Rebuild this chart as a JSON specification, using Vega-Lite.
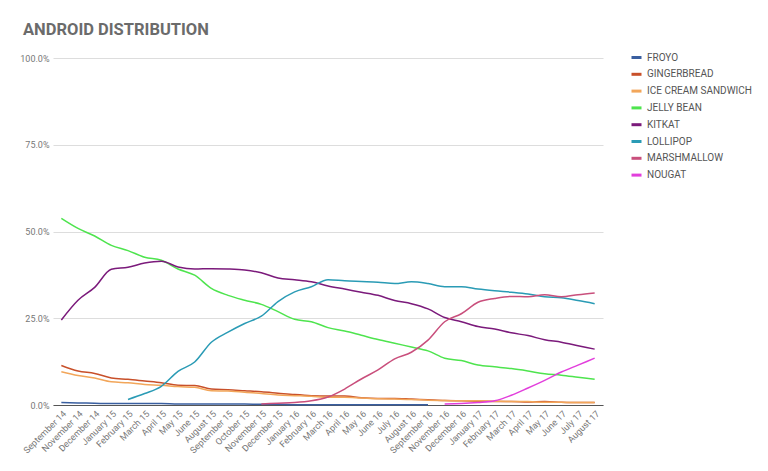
{
  "$schema": "https://vega.github.io/schema/vega-lite/v6.json",
  "width": 550,
  "height": 347,
  "autosize": {"type": "none"},
  "padding": {"left": 53, "top": 58, "right": 165, "bottom": 66},
  "background": "white",
  "title": {
    "text": "ANDROID DISTRIBUTION",
    "anchor": "start",
    "frame": "group",
    "dx": -30,
    "dy": 23,
    "offset": 23,
    "baseline": "alphabetic",
    "font": "Roboto",
    "fontSize": 16.5,
    "fontWeight": "bold",
    "color": "#6b6b6b"
  },
  "data": {
    "values": [
      {"month": "September 14", "version": "FROYO", "share": 0.7},
      {"month": "September 14", "version": "GINGERBREAD", "share": 11.4},
      {"month": "September 14", "version": "ICE CREAM SANDWICH", "share": 9.6},
      {"month": "September 14", "version": "JELLY BEAN", "share": 53.8},
      {"month": "September 14", "version": "KITKAT", "share": 24.5},
      {"month": "November 14", "version": "FROYO", "share": 0.6},
      {"month": "November 14", "version": "GINGERBREAD", "share": 9.8},
      {"month": "November 14", "version": "ICE CREAM SANDWICH", "share": 8.5},
      {"month": "November 14", "version": "JELLY BEAN", "share": 50.9},
      {"month": "November 14", "version": "KITKAT", "share": 30.2},
      {"month": "December 14", "version": "FROYO", "share": 0.5},
      {"month": "December 14", "version": "GINGERBREAD", "share": 9.1},
      {"month": "December 14", "version": "ICE CREAM SANDWICH", "share": 7.8},
      {"month": "December 14", "version": "JELLY BEAN", "share": 48.7},
      {"month": "December 14", "version": "KITKAT", "share": 33.9},
      {"month": "January 15", "version": "FROYO", "share": 0.4},
      {"month": "January 15", "version": "GINGERBREAD", "share": 7.8},
      {"month": "January 15", "version": "ICE CREAM SANDWICH", "share": 6.7},
      {"month": "January 15", "version": "JELLY BEAN", "share": 46.0},
      {"month": "January 15", "version": "KITKAT", "share": 39.1},
      {"month": "February 15", "version": "FROYO", "share": 0.4},
      {"month": "February 15", "version": "GINGERBREAD", "share": 7.4},
      {"month": "February 15", "version": "ICE CREAM SANDWICH", "share": 6.4},
      {"month": "February 15", "version": "JELLY BEAN", "share": 44.5},
      {"month": "February 15", "version": "KITKAT", "share": 39.7},
      {"month": "February 15", "version": "LOLLIPOP", "share": 1.6},
      {"month": "March 15", "version": "FROYO", "share": 0.4},
      {"month": "March 15", "version": "GINGERBREAD", "share": 6.9},
      {"month": "March 15", "version": "ICE CREAM SANDWICH", "share": 5.9},
      {"month": "March 15", "version": "JELLY BEAN", "share": 42.6},
      {"month": "March 15", "version": "KITKAT", "share": 40.9},
      {"month": "March 15", "version": "LOLLIPOP", "share": 3.3},
      {"month": "April 15", "version": "FROYO", "share": 0.4},
      {"month": "April 15", "version": "GINGERBREAD", "share": 6.4},
      {"month": "April 15", "version": "ICE CREAM SANDWICH", "share": 5.7},
      {"month": "April 15", "version": "JELLY BEAN", "share": 41.7},
      {"month": "April 15", "version": "KITKAT", "share": 41.4},
      {"month": "April 15", "version": "LOLLIPOP", "share": 5.4},
      {"month": "May 15", "version": "FROYO", "share": 0.3},
      {"month": "May 15", "version": "GINGERBREAD", "share": 5.7},
      {"month": "May 15", "version": "ICE CREAM SANDWICH", "share": 5.3},
      {"month": "May 15", "version": "JELLY BEAN", "share": 39.2},
      {"month": "May 15", "version": "KITKAT", "share": 39.8},
      {"month": "May 15", "version": "LOLLIPOP", "share": 9.7},
      {"month": "June 15", "version": "FROYO", "share": 0.3},
      {"month": "June 15", "version": "GINGERBREAD", "share": 5.6},
      {"month": "June 15", "version": "ICE CREAM SANDWICH", "share": 5.1},
      {"month": "June 15", "version": "JELLY BEAN", "share": 37.4},
      {"month": "June 15", "version": "KITKAT", "share": 39.2},
      {"month": "June 15", "version": "LOLLIPOP", "share": 12.4},
      {"month": "August 15", "version": "FROYO", "share": 0.3},
      {"month": "August 15", "version": "GINGERBREAD", "share": 4.6},
      {"month": "August 15", "version": "ICE CREAM SANDWICH", "share": 4.1},
      {"month": "August 15", "version": "JELLY BEAN", "share": 33.6},
      {"month": "August 15", "version": "KITKAT", "share": 39.3},
      {"month": "August 15", "version": "LOLLIPOP", "share": 18.1},
      {"month": "September 15", "version": "FROYO", "share": 0.3},
      {"month": "September 15", "version": "GINGERBREAD", "share": 4.4},
      {"month": "September 15", "version": "ICE CREAM SANDWICH", "share": 4.0},
      {"month": "September 15", "version": "JELLY BEAN", "share": 31.6},
      {"month": "September 15", "version": "KITKAT", "share": 39.2},
      {"month": "September 15", "version": "LOLLIPOP", "share": 21.0},
      {"month": "October 15", "version": "FROYO", "share": 0.3},
      {"month": "October 15", "version": "GINGERBREAD", "share": 4.1},
      {"month": "October 15", "version": "ICE CREAM SANDWICH", "share": 3.7},
      {"month": "October 15", "version": "JELLY BEAN", "share": 30.2},
      {"month": "October 15", "version": "KITKAT", "share": 38.9},
      {"month": "October 15", "version": "LOLLIPOP", "share": 23.5},
      {"month": "November 15", "version": "FROYO", "share": 0.2},
      {"month": "November 15", "version": "GINGERBREAD", "share": 3.8},
      {"month": "November 15", "version": "ICE CREAM SANDWICH", "share": 3.3},
      {"month": "November 15", "version": "JELLY BEAN", "share": 29.0},
      {"month": "November 15", "version": "KITKAT", "share": 38.1},
      {"month": "November 15", "version": "LOLLIPOP", "share": 25.6},
      {"month": "November 15", "version": "MARSHMALLOW", "share": 0.3},
      {"month": "December 15", "version": "FROYO", "share": 0.2},
      {"month": "December 15", "version": "GINGERBREAD", "share": 3.4},
      {"month": "December 15", "version": "ICE CREAM SANDWICH", "share": 2.9},
      {"month": "December 15", "version": "JELLY BEAN", "share": 26.9},
      {"month": "December 15", "version": "KITKAT", "share": 36.6},
      {"month": "December 15", "version": "LOLLIPOP", "share": 29.8},
      {"month": "December 15", "version": "MARSHMALLOW", "share": 0.5},
      {"month": "January 16", "version": "FROYO", "share": 0.1},
      {"month": "January 16", "version": "GINGERBREAD", "share": 3.0},
      {"month": "January 16", "version": "ICE CREAM SANDWICH", "share": 2.7},
      {"month": "January 16", "version": "JELLY BEAN", "share": 24.7},
      {"month": "January 16", "version": "KITKAT", "share": 36.1},
      {"month": "January 16", "version": "LOLLIPOP", "share": 32.6},
      {"month": "January 16", "version": "MARSHMALLOW", "share": 0.7},
      {"month": "February 16", "version": "FROYO", "share": 0.1},
      {"month": "February 16", "version": "GINGERBREAD", "share": 2.7},
      {"month": "February 16", "version": "ICE CREAM SANDWICH", "share": 2.5},
      {"month": "February 16", "version": "JELLY BEAN", "share": 24.0},
      {"month": "February 16", "version": "KITKAT", "share": 35.5},
      {"month": "February 16", "version": "LOLLIPOP", "share": 34.1},
      {"month": "February 16", "version": "MARSHMALLOW", "share": 1.2},
      {"month": "March 16", "version": "FROYO", "share": 0.1},
      {"month": "March 16", "version": "GINGERBREAD", "share": 2.6},
      {"month": "March 16", "version": "ICE CREAM SANDWICH", "share": 2.2},
      {"month": "March 16", "version": "JELLY BEAN", "share": 22.3},
      {"month": "March 16", "version": "KITKAT", "share": 34.3},
      {"month": "March 16", "version": "LOLLIPOP", "share": 36.1},
      {"month": "March 16", "version": "MARSHMALLOW", "share": 2.3},
      {"month": "April 16", "version": "FROYO", "share": 0.1},
      {"month": "April 16", "version": "GINGERBREAD", "share": 2.6},
      {"month": "April 16", "version": "ICE CREAM SANDWICH", "share": 2.2},
      {"month": "April 16", "version": "JELLY BEAN", "share": 21.3},
      {"month": "April 16", "version": "KITKAT", "share": 33.4},
      {"month": "April 16", "version": "LOLLIPOP", "share": 35.8},
      {"month": "April 16", "version": "MARSHMALLOW", "share": 4.6},
      {"month": "May 16", "version": "FROYO", "share": 0.1},
      {"month": "May 16", "version": "GINGERBREAD", "share": 2.1},
      {"month": "May 16", "version": "ICE CREAM SANDWICH", "share": 2.0},
      {"month": "May 16", "version": "JELLY BEAN", "share": 20.1},
      {"month": "May 16", "version": "KITKAT", "share": 32.5},
      {"month": "May 16", "version": "LOLLIPOP", "share": 35.6},
      {"month": "May 16", "version": "MARSHMALLOW", "share": 7.5},
      {"month": "June 16", "version": "FROYO", "share": 0.1},
      {"month": "June 16", "version": "GINGERBREAD", "share": 1.9},
      {"month": "June 16", "version": "ICE CREAM SANDWICH", "share": 1.8},
      {"month": "June 16", "version": "JELLY BEAN", "share": 18.9},
      {"month": "June 16", "version": "KITKAT", "share": 31.6},
      {"month": "June 16", "version": "LOLLIPOP", "share": 35.4},
      {"month": "June 16", "version": "MARSHMALLOW", "share": 10.1},
      {"month": "July 16", "version": "FROYO", "share": 0.1},
      {"month": "July 16", "version": "GINGERBREAD", "share": 1.9},
      {"month": "July 16", "version": "ICE CREAM SANDWICH", "share": 1.7},
      {"month": "July 16", "version": "JELLY BEAN", "share": 17.8},
      {"month": "July 16", "version": "KITKAT", "share": 30.1},
      {"month": "July 16", "version": "LOLLIPOP", "share": 35.0},
      {"month": "July 16", "version": "MARSHMALLOW", "share": 13.3},
      {"month": "August 16", "version": "FROYO", "share": 0.1},
      {"month": "August 16", "version": "GINGERBREAD", "share": 1.7},
      {"month": "August 16", "version": "ICE CREAM SANDWICH", "share": 1.6},
      {"month": "August 16", "version": "JELLY BEAN", "share": 16.7},
      {"month": "August 16", "version": "KITKAT", "share": 29.2},
      {"month": "August 16", "version": "LOLLIPOP", "share": 35.5},
      {"month": "August 16", "version": "MARSHMALLOW", "share": 15.2},
      {"month": "September 16", "version": "FROYO", "share": 0.1},
      {"month": "September 16", "version": "GINGERBREAD", "share": 1.5},
      {"month": "September 16", "version": "ICE CREAM SANDWICH", "share": 1.4},
      {"month": "September 16", "version": "JELLY BEAN", "share": 15.6},
      {"month": "September 16", "version": "KITKAT", "share": 27.7},
      {"month": "September 16", "version": "LOLLIPOP", "share": 35.0},
      {"month": "September 16", "version": "MARSHMALLOW", "share": 18.7},
      {"month": "November 16", "version": "GINGERBREAD", "share": 1.3},
      {"month": "November 16", "version": "ICE CREAM SANDWICH", "share": 1.3},
      {"month": "November 16", "version": "JELLY BEAN", "share": 13.5},
      {"month": "November 16", "version": "KITKAT", "share": 25.2},
      {"month": "November 16", "version": "LOLLIPOP", "share": 34.1},
      {"month": "November 16", "version": "MARSHMALLOW", "share": 24.0},
      {"month": "November 16", "version": "NOUGAT", "share": 0.3},
      {"month": "December 16", "version": "GINGERBREAD", "share": 1.2},
      {"month": "December 16", "version": "ICE CREAM SANDWICH", "share": 1.2},
      {"month": "December 16", "version": "JELLY BEAN", "share": 12.8},
      {"month": "December 16", "version": "KITKAT", "share": 24.0},
      {"month": "December 16", "version": "LOLLIPOP", "share": 34.1},
      {"month": "December 16", "version": "MARSHMALLOW", "share": 26.3},
      {"month": "December 16", "version": "NOUGAT", "share": 0.4},
      {"month": "January 17", "version": "GINGERBREAD", "share": 1.1},
      {"month": "January 17", "version": "ICE CREAM SANDWICH", "share": 1.2},
      {"month": "January 17", "version": "JELLY BEAN", "share": 11.5},
      {"month": "January 17", "version": "KITKAT", "share": 22.6},
      {"month": "January 17", "version": "LOLLIPOP", "share": 33.4},
      {"month": "January 17", "version": "MARSHMALLOW", "share": 29.6},
      {"month": "January 17", "version": "NOUGAT", "share": 0.7},
      {"month": "February 17", "version": "GINGERBREAD", "share": 1.0},
      {"month": "February 17", "version": "ICE CREAM SANDWICH", "share": 1.1},
      {"month": "February 17", "version": "JELLY BEAN", "share": 11.0},
      {"month": "February 17", "version": "KITKAT", "share": 21.9},
      {"month": "February 17", "version": "LOLLIPOP", "share": 32.9},
      {"month": "February 17", "version": "MARSHMALLOW", "share": 30.7},
      {"month": "February 17", "version": "NOUGAT", "share": 1.2},
      {"month": "March 17", "version": "GINGERBREAD", "share": 1.0},
      {"month": "March 17", "version": "ICE CREAM SANDWICH", "share": 1.0},
      {"month": "March 17", "version": "JELLY BEAN", "share": 10.5},
      {"month": "March 17", "version": "KITKAT", "share": 20.8},
      {"month": "March 17", "version": "LOLLIPOP", "share": 32.5},
      {"month": "March 17", "version": "MARSHMALLOW", "share": 31.3},
      {"month": "March 17", "version": "NOUGAT", "share": 2.8},
      {"month": "April 17", "version": "GINGERBREAD", "share": 0.9},
      {"month": "April 17", "version": "ICE CREAM SANDWICH", "share": 1.0},
      {"month": "April 17", "version": "JELLY BEAN", "share": 9.8},
      {"month": "April 17", "version": "KITKAT", "share": 20.0},
      {"month": "April 17", "version": "LOLLIPOP", "share": 32.0},
      {"month": "April 17", "version": "MARSHMALLOW", "share": 31.2},
      {"month": "April 17", "version": "NOUGAT", "share": 4.9},
      {"month": "May 17", "version": "GINGERBREAD", "share": 1.0},
      {"month": "May 17", "version": "ICE CREAM SANDWICH", "share": 0.8},
      {"month": "May 17", "version": "JELLY BEAN", "share": 9.0},
      {"month": "May 17", "version": "KITKAT", "share": 18.8},
      {"month": "May 17", "version": "LOLLIPOP", "share": 31.2},
      {"month": "May 17", "version": "MARSHMALLOW", "share": 31.8},
      {"month": "May 17", "version": "NOUGAT", "share": 7.1},
      {"month": "June 17", "version": "GINGERBREAD", "share": 0.8},
      {"month": "June 17", "version": "ICE CREAM SANDWICH", "share": 0.8},
      {"month": "June 17", "version": "JELLY BEAN", "share": 8.6},
      {"month": "June 17", "version": "KITKAT", "share": 18.1},
      {"month": "June 17", "version": "LOLLIPOP", "share": 30.9},
      {"month": "June 17", "version": "MARSHMALLOW", "share": 31.2},
      {"month": "June 17", "version": "NOUGAT", "share": 9.5},
      {"month": "July 17", "version": "GINGERBREAD", "share": 0.7},
      {"month": "July 17", "version": "ICE CREAM SANDWICH", "share": 0.7},
      {"month": "July 17", "version": "JELLY BEAN", "share": 8.0},
      {"month": "July 17", "version": "KITKAT", "share": 17.1},
      {"month": "July 17", "version": "LOLLIPOP", "share": 30.1},
      {"month": "July 17", "version": "MARSHMALLOW", "share": 31.8},
      {"month": "July 17", "version": "NOUGAT", "share": 11.5},
      {"month": "August 17", "version": "GINGERBREAD", "share": 0.7},
      {"month": "August 17", "version": "ICE CREAM SANDWICH", "share": 0.7},
      {"month": "August 17", "version": "JELLY BEAN", "share": 7.4},
      {"month": "August 17", "version": "KITKAT", "share": 16.1},
      {"month": "August 17", "version": "LOLLIPOP", "share": 29.2},
      {"month": "August 17", "version": "MARSHMALLOW", "share": 32.3},
      {"month": "August 17", "version": "NOUGAT", "share": 13.5}
    ]
  },
  "mark": {"type": "line", "interpolate": "monotone", "strokeWidth": 1.5},
  "encoding": {
    "x": {
      "field": "month",
      "type": "ordinal",
      "sort": null,
      "scale": {"padding": 0.5},
      "axis": {
        "title": null,
        "labelAngle": -45,
        "labelAlign": "right",
        "ticks": false,
        "labelPadding": 4,
        "labelFontSize": 9,
        "labelColor": "#777777",
        "domainColor": "#555555"
      }
    },
    "y": {
      "field": "share",
      "type": "quantitative",
      "scale": {"domain": [0, 100]},
      "axis": {
        "title": null,
        "values": [0, 25, 50, 75, 100],
        "labelExpr": "format(datum.value, '.1f') + '%'",
        "domain": false,
        "ticks": false,
        "labelPadding": 4,
        "labelFontSize": 9,
        "labelColor": "#777777",
        "gridColor": "#dddddd"
      }
    },
    "color": {
      "field": "version",
      "type": "nominal",
      "scale": {
        "domain": ["FROYO", "GINGERBREAD", "ICE CREAM SANDWICH", "JELLY BEAN", "KITKAT", "LOLLIPOP", "MARSHMALLOW", "NOUGAT"],
        "range": ["#3a5fa0", "#c8502a", "#f2a65a", "#4ee44e", "#7b1a7b", "#2a9bb5", "#c94f7c", "#e23fdc"]
      },
      "legend": {
        "title": null,
        "orient": "none",
        "legendX": 577,
        "legendY": -7,
        "symbolType": "stroke",
        "symbolStrokeWidth": 3,
        "symbolSize": 100,
        "labelFontSize": 10,
        "labelColor": "#555555",
        "labelOffset": 4,
        "rowPadding": 3.8
      }
    }
  },
  "config": {
    "view": {"stroke": null},
    "font": "Roboto"
  }
}
